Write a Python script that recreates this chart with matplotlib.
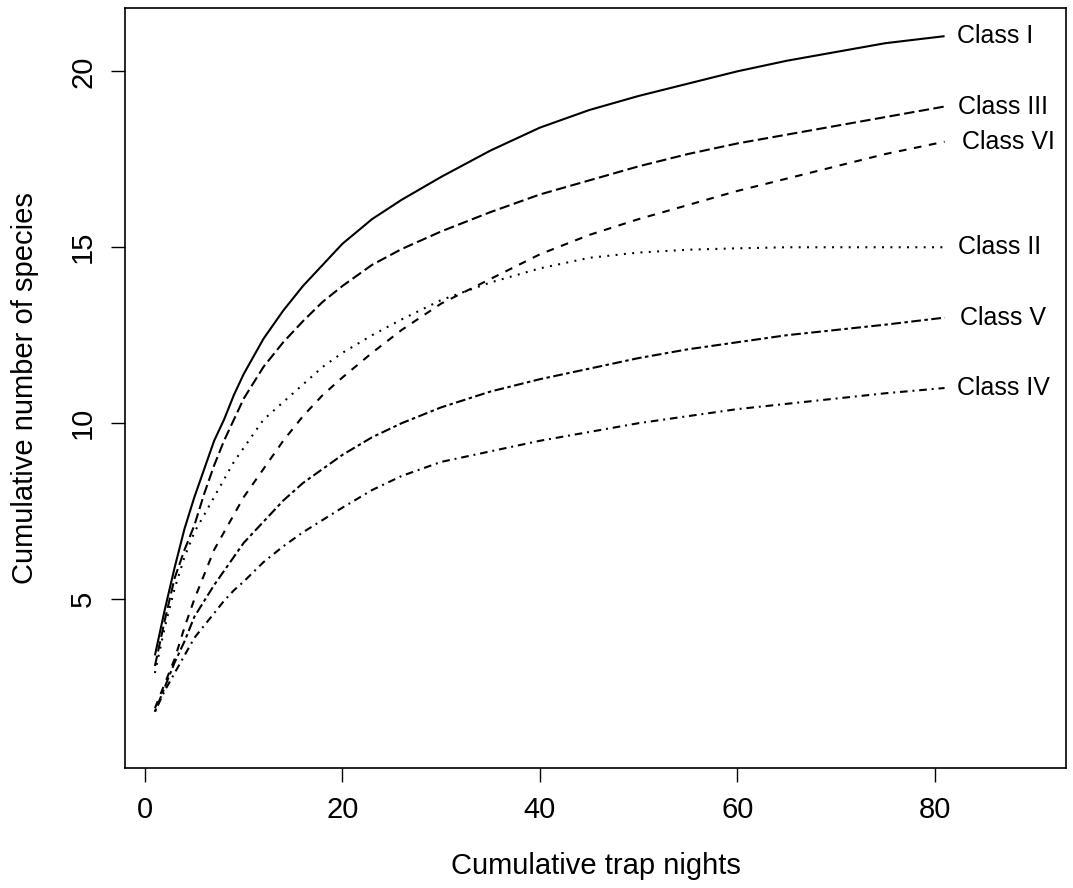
import matplotlib
matplotlib.use("Agg")
import matplotlib.pyplot as plt

plt.rcParams['font.family'] = ['Liberation Sans', 'DejaVu Sans']
plt.rcParams['lines.scale_dashes'] = False

# Cumulative trap nights at which the curves were read
nights = [1, 2, 3, 4, 5, 6, 7, 8, 9, 10, 12, 14, 16, 18, 20, 23, 26, 30,
          35, 40, 45, 50, 55, 60, 65, 70, 75, 81]

class_i   = [3.4, 4.7, 5.9, 7.0, 7.9, 8.7, 9.5, 10.1, 10.8, 11.4, 12.4, 13.2, 13.9, 14.5,
             15.1, 15.8, 16.35, 17.0, 17.75, 18.4, 18.9, 19.3, 19.65, 20.0, 20.3, 20.55, 20.8, 21.0]
class_ii  = [2.9, 4.2, 5.3, 6.2, 6.9, 7.4, 7.9, 8.4, 8.9, 9.3, 10.1, 10.6, 11.1, 11.6,
             12.0, 12.5, 12.95, 13.5, 14.0, 14.4, 14.7, 14.85, 14.93, 14.97, 15.0, 15.0, 15.0, 15.0]
class_iii = [3.1, 4.4, 5.6, 6.4, 7.1, 8.0, 8.8, 9.5, 10.1, 10.7, 11.6, 12.3, 12.9, 13.45,
             13.9, 14.5, 14.95, 15.45, 16.0, 16.5, 16.9, 17.3, 17.65, 17.95, 18.2, 18.45, 18.7, 19.0]
class_iv  = [1.8, 2.4, 2.9, 3.4, 3.9, 4.25, 4.6, 4.95, 5.25, 5.5, 6.05, 6.5, 6.9, 7.25,
             7.6, 8.1, 8.5, 8.9, 9.2, 9.5, 9.75, 10.0, 10.2, 10.4, 10.55, 10.7, 10.85, 11.0]
class_v   = [1.8, 2.5, 3.2, 3.8, 4.5, 4.95, 5.4, 5.8, 6.2, 6.6, 7.2, 7.8, 8.3, 8.7,
             9.1, 9.6, 10.0, 10.45, 10.9, 11.25, 11.55, 11.85, 12.1, 12.3, 12.5, 12.65, 12.8, 13.0]
class_vi  = [1.9, 2.6, 3.3, 4.2, 5.0, 5.7, 6.4, 6.9, 7.4, 7.9, 8.7, 9.5, 10.2, 10.8,
             11.3, 12.0, 12.65, 13.4, 14.1, 14.8, 15.35, 15.8, 16.2, 16.6, 16.95, 17.3, 17.65, 18.0]

labels = ["Class I", "Class II", "Class III", "Class IV", "Class V", "Class VI"]
series = [class_i, class_ii, class_iii, class_iv, class_v, class_vi]

x_ticks = [0, 20, 40, 60, 80]
y_ticks = [5, 10, 15, 20]

# R-style line types: solid, dotted, longdash, dotdash, twodash, dashed
dash_styles = [
    (0, ()),
    (0, (1.4, 4.6)),
    (0, (7.5, 3.2)),
    (0, (1.4, 3.5, 5.5, 3.5)),
    (0, (2.5, 2.5, 7.0, 2.5)),
    (0, (5.5, 5.5)),
]

W, H = 1073, 888
fig = plt.figure(figsize=(W / 100, H / 100), dpi=100)
left, right, top, bottom = 125, 1066, 8, 768
ax = fig.add_axes([left / W, (H - bottom) / H, (right - left) / W, (bottom - top) / H])

for vals, ls in zip(series, dash_styles):
    ax.plot(nights, vals, color="black", lw=1.5, linestyle=ls,
            solid_capstyle="butt", dash_capstyle="butt")

label_x = [82.3, 82.4, 82.4, 82.3, 82.6, 82.8]
for lx, vals, name in zip(label_x, series, labels):
    ax.text(lx, vals[-1], name, fontsize=18, va="center", ha="left")

ax.set_xlim(-2.03, 93.3)
ax.set_ylim(0.2, 21.8)
ax.set_xticks(x_ticks)
ax.set_yticks(y_ticks)
ax.tick_params(direction="out", length=10, width=1.0, labelsize=21, pad=10)
for lab in ax.get_yticklabels():
    lab.set_rotation(90)
    lab.set_va("center")
for sp in ax.spines.values():
    sp.set_linewidth(1.2)

ax.set_xlabel("Cumulative trap nights", fontsize=21, labelpad=20)
ax.set_ylabel("Cumulative number of species", fontsize=21, labelpad=22)

fig.savefig("out.png", dpi=100, facecolor="white")
